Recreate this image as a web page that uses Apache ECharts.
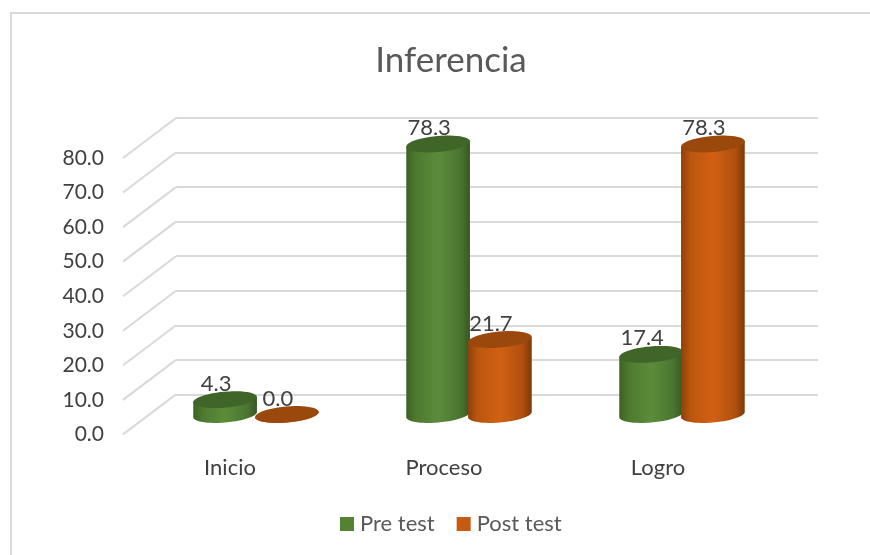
<!DOCTYPE html>
<html>
<head>
<meta charset="utf-8">
<style>
  html, body { margin: 0; padding: 0; background: #fff; }
  #main { width: 870px; height: 555px; }
</style>
</head>
<body>
<div id="main"></div>
<script src="https://cdn.jsdelivr.net/npm/echarts@6/dist/echarts.min.js"></script>
<script>
const categories = ['Inicio', 'Proceso', 'Logro']
const preTest = [4.3, 78.3, 17.4]
const postTest = [0.0, 21.7, 78.3]
const yTicks = [0, 10, 20, 30, 40, 50, 60, 70, 80]

const FONT = 'Lato, "Open Sans", sans-serif'
const TILT = -5 * Math.PI / 180
const RY = 8

const greenStops = [
  { offset: 0, color: '#3c6124' }, { offset: 0.15, color: '#4e7a30' },
  { offset: 0.5, color: '#5b8c3a' }, { offset: 0.85, color: '#4a7530' },
  { offset: 1, color: '#365721' }
]
const orangeStops = [
  { offset: 0, color: '#8e400b' }, { offset: 0.15, color: '#bb560f' },
  { offset: 0.5, color: '#d26012' }, { offset: 0.85, color: '#b0500f' },
  { offset: 1, color: '#7d3809' }
]

// point on a tilted ellipse, t is the ellipse parameter
function onEllipse (cx, cy, rx, t) {
  return [
    cx + rx * Math.cos(t) * Math.cos(TILT) - RY * Math.sin(t) * Math.sin(TILT),
    cy + rx * Math.cos(t) * Math.sin(TILT) + RY * Math.sin(t) * Math.cos(TILT)
  ]
}

function arcPoints (cx, cy, rx, from, to) {
  const pts = []
  for (let i = 0; i <= 48; i++) {
    pts.push(onEllipse(cx, cy, rx, from + (to - from) * i / 48))
  }
  return pts
}

// cylinder: side, label behind the lid, lid
function cylinder (shift, stops, lid) {
  return function (params, api) {
    const band = api.size([1, 0])[0]
    const rx = band * 0.15
    const base = api.coord([api.value(0), 0])
    const top = api.coord([api.value(0), api.value(1)])
    const cx = base[0] + band * shift
    const t0 = Math.atan(-(RY / rx) * Math.tan(TILT))
    const side = arcPoints(cx, base[1], rx, t0, t0 + Math.PI)
    side.push(onEllipse(cx, top[1], rx, t0 + Math.PI))
    side.push(onEllipse(cx, top[1], rx, t0))
    return {
      type: 'group',
      children: [
        {
          type: 'text',
          style: {
            text: api.value(1).toFixed(1),
            x: cx - 9,
            y: top[1] - 16,
            align: 'center',
            verticalAlign: 'middle',
            fill: '#404040',
            font: '22px ' + FONT
          }
        },
        {
          type: 'polygon',
          shape: { points: side },
          style: { fill: { type: 'linear', x: 0, y: 0, x2: 1, y2: 0, colorStops: stops } }
        },
        {
          type: 'polygon',
          shape: { points: arcPoints(cx, top[1], rx, 0, Math.PI * 2) },
          style: { fill: lid }
        }
      ]
    }
  }
}

// depth lines running from the back wall to the front edge
function depthLine (params, api) {
  const x = params.coordSys.x
  const y = api.coord([0, api.value(0)])[1]
  return {
    type: 'line',
    shape: { x1: x, y1: y, x2: x - 53, y2: y + 40 },
    style: { stroke: '#d9d9d9', lineWidth: 2 }
  }
}

const valueAxis = { type: 'value', min: 0, max: 80, interval: 10 }
const bandAxis = { type: 'category', data: categories, axisLine: { show: false }, axisTick: { show: false } }

const chart = echarts.init(document.getElementById('main'), null, { renderer: 'canvas' })
chart.setOption({
  animation: false,
  backgroundColor: '#fff',
  title: {
    text: 'Inferencia',
    left: 446,
    top: 38,
    textAlign: 'center',
    textStyle: { fontFamily: FONT, fontSize: 35, fontWeight: 'normal', color: '#595959' }
  },
  legend: {
    left: 335,
    top: 508,
    icon: 'rect',
    itemWidth: 14,
    itemHeight: 14,
    itemGap: 22,
    data: ['Pre test', 'Post test'],
    textStyle: { fontFamily: FONT, fontSize: 22, color: '#595959', padding: [0, 0, 0, 1] }
  },
  graphic: [
    {
      type: 'rect',
      shape: { x: 11, y: 13, width: 900, height: 600 },
      style: { fill: 'none', stroke: '#d9d9d9', lineWidth: 2 },
      silent: true
    }
  ],
  grid: [
    { left: 176, top: 118, width: 642, height: 276.4 }, // back wall
    { left: 149.5, top: 138.1, width: 639, height: 276.4 }, // plane the bars stand on
    { left: 123, top: 158, width: 642, height: 276.4 } // front edge, carries the labels
  ],
  xAxis: [
    { ...bandAxis, gridIndex: 0, axisLabel: { show: false } },
    { ...bandAxis, gridIndex: 1, axisLabel: { show: false } },
    {
      ...bandAxis,
      gridIndex: 2,
      axisLabel: { margin: 23, fontFamily: FONT, fontSize: 22, color: '#404040' }
    }
  ],
  yAxis: [
    {
      ...valueAxis,
      gridIndex: 0,
      axisLabel: { show: false },
      axisLine: { show: false },
      axisTick: { show: false },
      splitLine: { show: true, lineStyle: { color: '#d9d9d9', width: 2 } }
    },
    {
      ...valueAxis,
      gridIndex: 1,
      axisLabel: { show: false },
      axisLine: { show: false },
      axisTick: { show: false },
      splitLine: { show: false }
    },
    {
      ...valueAxis,
      gridIndex: 2,
      axisLine: { show: false },
      axisTick: { show: false },
      splitLine: { show: false },
      axisLabel: {
        margin: 19,
        fontFamily: FONT,
        fontSize: 21,
        color: '#404040',
        formatter: (v) => v.toFixed(1)
      }
    }
  ],
  series: [
    {
      type: 'custom',
      xAxisIndex: 0,
      yAxisIndex: 0,
      silent: true,
      data: yTicks.map((v) => [v]),
      encode: { y: 0 },
      renderItem: depthLine
    },
    {
      name: 'Pre test',
      type: 'custom',
      xAxisIndex: 1,
      yAxisIndex: 1,
      itemStyle: { color: '#548235' },
      data: preTest.map((v, i) => [i, v]),
      encode: { x: 0, y: 1 },
      renderItem: cylinder(-0.145, greenStops, '#406528')
    },
    {
      name: 'Post test',
      type: 'custom',
      xAxisIndex: 1,
      yAxisIndex: 1,
      itemStyle: { color: '#c55a11' },
      data: postTest.map((v, i) => [i, v]),
      encode: { x: 0, y: 1 },
      renderItem: cylinder(0.145, orangeStops, '#9a480c')
    }
  ]
})
</script>
</body>
</html>
